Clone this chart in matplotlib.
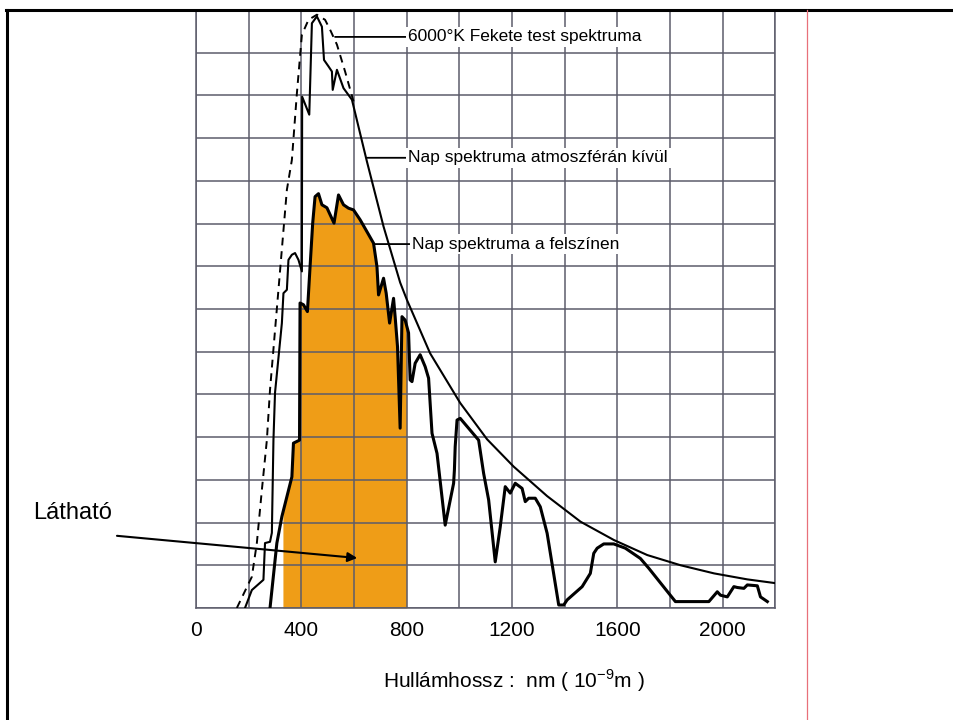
import numpy as np
import matplotlib
matplotlib.use("Agg")
import matplotlib.pyplot as plt
from matplotlib.lines import Line2D

plt.rcParams['font.family'] = ['Liberation Sans', 'DejaVu Sans']

# 6000 K black body (dashed)
bb_x = [155, 212, 231, 250, 269, 281, 313, 345, 364, 383, 402, 427, 459, 490, 509, 535, 566, 598]
bb_y = [0, 0.73, 1.52, 2.76, 3.93, 5.11, 7.45, 9.79, 10.49, 12.05, 13.42, 13.77, 13.89, 13.77, 13.54, 13.19, 12.56, 11.86]

# spectrum outside the atmosphere
et_x = [186, 212, 256, 262, 281, 288, 294, 300, 326, 332, 345, 351, 364, 376, 389, 402, 403,
        430, 440, 459, 478, 486, 503, 516, 519, 535, 560, 592,
        649, 712, 775, 801, 889, 1003, 1105, 1206, 1333, 1460, 1587, 1713, 1840, 1967, 2093, 2202]
et_y = [0, 0.42, 0.66, 1.52, 1.55, 1.76, 3.93, 5.04, 6.67, 7.37, 7.45, 8.15, 8.27, 8.31, 8.15, 7.88, 11.97,
        11.55, 13.69, 13.85, 13.61, 12.83, 12.68, 12.56, 12.13, 12.60, 12.17, 11.90,
        10.45, 8.93, 7.62, 7.21, 5.96, 4.80, 3.95, 3.31, 2.62, 2.02, 1.59, 1.24, 1.00, 0.81, 0.67, 0.58]

# spectrum at the surface
sf_x = [281, 307, 326, 364, 370, 393, 395, 408, 423, 433, 443, 452, 465, 478, 497, 524, 541, 560,
        579, 598, 623, 649, 674, 687, 693, 712, 722, 735, 750, 756, 765, 775, 782, 794, 807, 813,
        820, 832, 851, 870, 883, 896, 915, 946, 978, 981, 984, 991, 1003, 1073, 1092, 1111, 1136,
        1155, 1174, 1193, 1212, 1238, 1250, 1263, 1288, 1307, 1333, 1377, 1396, 1409, 1466, 1497,
        1510, 1523, 1548, 1586, 1630, 1687, 1719, 1820, 1947, 1979, 1991, 2017, 2042, 2055, 2080,
        2093, 2131, 2143, 2169]
sf_y = [0, 1.52, 2.14, 3.07, 3.86, 3.93, 7.14, 7.10, 6.94, 7.99, 9.01, 9.63, 9.70, 9.44, 9.37, 9.01,
        9.67, 9.44, 9.36, 9.32, 9.09, 8.81, 8.54, 7.99, 7.33, 7.72, 7.37, 6.67, 7.25, 6.82, 6.12,
        4.21, 6.82, 6.74, 6.44, 5.34, 5.30, 5.73, 5.93, 5.65, 5.38, 4.09, 3.62, 1.94, 2.92, 3.23,
        3.78, 4.40, 4.44, 3.93, 3.15, 2.53, 1.08, 1.90, 2.84, 2.69, 2.92, 2.80, 2.49, 2.57, 2.57,
        2.37, 1.75, 0.07, 0.07, 0.19, 0.50, 0.81, 1.28, 1.40, 1.50, 1.50, 1.40, 1.16, 0.93, 0.15,
        0.15, 0.38, 0.30, 0.26, 0.50, 0.48, 0.46, 0.54, 0.52, 0.26, 0.15]

visible = (330, 800)
xticks = np.arange(0, 2201, 200)
xtick_labels = ['0', '', '400', '', '800', '', '1200', '', '1600', '', '2000', '']

fig = plt.figure(figsize=(9.54, 7.2), dpi=100)
ax = fig.add_axes([196 / 954, 112 / 720, 579.5 / 954, 598 / 720])
ax.set_xlim(0, 2200)
ax.set_ylim(0, 14)

grid_c = '#5c5c6b'
ax.set_xticks(xticks)
ax.set_xticklabels(xtick_labels, fontsize=15)
ax.set_yticks(np.arange(0, 15, 1))
ax.set_yticklabels([])
ax.tick_params(length=0, pad=9)
ax.set_axisbelow(True)
ax.grid(True, color=grid_c, lw=1.1)
for s in ax.spines.values():
    s.set_color(grid_c)
    s.set_linewidth(1.1)

# visible band
sx = np.array(sf_x, dtype=float)
sy = np.array(sf_y, dtype=float)
m = (sx > visible[0]) & (sx < visible[1])
fx = np.concatenate([[visible[0]], sx[m], [visible[1]]])
fy = np.concatenate([[np.interp(visible[0], sx, sy)], sy[m], [np.interp(visible[1], sx, sy)]])
ax.fill_between(fx, 0, fy, color='#EF9D17', zorder=0.3, lw=0)

ax.plot(bb_x, bb_y, color='black', lw=1.4, dashes=(4, 3), zorder=3)
ax.plot(et_x, et_y, color='black', lw=1.5, zorder=3)
ax.plot(sf_x, sf_y, color='black', lw=2.2, zorder=4, solid_joinstyle='round')

bb = dict(boxstyle='square,pad=0.15', fc='white', ec='none')
lead = dict(arrowstyle='-', color='black', lw=1.3, shrinkA=0, shrinkB=0)
ax.annotate('6000°K Fekete test spektruma', xy=(528, 13.37), xytext=(806, 13.37),
            fontsize=12.5, va='center', ha='left', bbox=bb, arrowprops=lead, zorder=5)
ax.annotate('Nap spektruma atmoszférán kívül', xy=(650, 10.54), xytext=(806, 10.54),
            fontsize=12.5, va='center', ha='left', bbox=bb, arrowprops=lead, zorder=5)
ax.annotate('Nap spektruma a felszínen', xy=(676, 8.52), xytext=(821, 8.52),
            fontsize=12.5, va='center', ha='left', bbox=bb, arrowprops=lead, zorder=5)

ax.text(-619, 2.22, 'Látható', fontsize=17, va='center', ha='left', clip_on=False)
ax.annotate('', xy=(612, 1.17), xytext=(-300, 1.69), annotation_clip=False,
            arrowprops=dict(arrowstyle='-|>', color='black', lw=1.5, mutation_scale=14,
                            shrinkA=0, shrinkB=0), zorder=6)

fig.text(514 / 954, 1 - 680.7 / 720, 'Hullámhossz :  nm ( 10$^{\\mathregular{-9}}$m )',
         fontsize=15, ha='center', va='center')

# page frame
fig.add_artist(Line2D([6 / 954, 1], [1 - 10 / 720, 1 - 10 / 720], color='black', lw=2.2))
fig.add_artist(Line2D([7 / 954, 7 / 954], [0, 1 - 10 / 720], color='black', lw=2.2))
fig.add_artist(Line2D([806.7 / 954, 806.7 / 954], [0, 1 - 10 / 720], color='#e8707a', lw=0.9))

fig.savefig('out.png', dpi=100)
